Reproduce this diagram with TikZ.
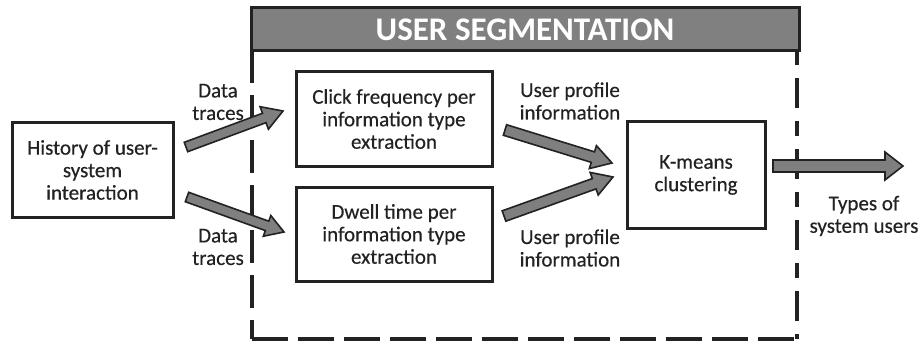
\documentclass[tikz,border=0pt]{standalone}
\usepackage{fontspec}
\setmainfont{Carlito}
\newfontfamily\bodyfont{Carlito}[FakeBold=0.4]
\usetikzlibrary{calc}
\definecolor{ink}{HTML}{222222}
\definecolor{arrowgray}{HTML}{7F7F7F}
\definecolor{headgray}{HTML}{808080}
\tikzset{
  txt/.style={font=\bodyfont\fontsize{21}{22.5}\selectfont},
  procbox/.style={draw=ink, line width=3pt, fill=white, align=center, text=ink, txt},
  lbl/.style={align=center, text=ink, txt},
  frameline/.style={draw=ink, line width=4pt},
}
% #1 tail, #2 tip, #3 shaft half width, #4 head half width, #5 head length
\newcommand{\blockarrow}[5]{%
  \coordinate (hb) at ($(#2)!#5!(#1)$);
  \filldraw[fill=arrowgray, draw=ink, line width=1.6pt, line join=miter]
    ($(#1)!#3!90:(#2)$) -- ($(hb)!#3!90:(#2)$) -- ($(hb)!#4!90:(#2)$) -- (#2)
    -- ($(hb)!#4!-90:(#2)$) -- ($(hb)!#3!-90:(#2)$) -- ($(#1)!#3!-90:(#2)$) -- cycle;
}
\begin{document}
\begin{tikzpicture}[x=1pt,y=-1pt]
\useasboundingbox[fill=white] (0,0) rectangle (923,342);
% frame
\draw[frameline, dash pattern=on 33pt off 12pt] (252,50) -- (252,339);
\draw[frameline, dash pattern=on 15pt off 13pt on 30pt off 13pt] (797,50) -- (797,339);
\draw[frameline, dash pattern=on 36pt off 10pt] (252,339) -- (799,339);
% header
\node[draw=ink, line width=3pt, fill=headgray, minimum width=548pt, minimum height=43pt, inner sep=0pt] (hdr) at (525,29) {};
\node[text=white, font=\fontsize{33}{36}\bfseries] (title) at ($(hdr.center)+(0,1)$) {USER SEGMENTATION};
% boxes
\node[procbox, minimum width=161pt, minimum height=94pt] (hist) at (92.5,170) {History of user-\\system\\interaction};
\node[procbox, minimum width=196pt, minimum height=94pt] (click) at (394,119) {Click frequency per\\information type\\extraction};
\node[procbox, minimum width=196pt, minimum height=94pt] (dwell) at (394,234) {Dwell time per\\information type\\extraction};
\node[procbox, minimum width=138pt, minimum height=106pt] (km) at (696,175) {K-means\\clustering};
% arrow end points
\coordinate (a1s) at (186,147);
\coordinate (a1e) at (283,111);
\coordinate (a2s) at (187,197);
\coordinate (a2e) at (284,232);
\coordinate (a3s) at (505,130);
\coordinate (a3e) at (612,163);
\coordinate (a4s) at (504,216);
\coordinate (a4e) at (613,177);
\coordinate (a5s) at (773,166);
\coordinate (a5e) at (903,166);
\blockarrow{a1s}{a1e}{5pt}{12pt}{20pt}
\blockarrow{a2s}{a2e}{5pt}{11pt}{18pt}
\blockarrow{a3s}{a3e}{5.5pt}{12pt}{20pt}
\blockarrow{a4s}{a4e}{5.5pt}{12pt}{20pt}
\blockarrow{a5s}{a5e}{6pt}{14pt}{18pt}
% labels
\node[lbl] (l1) at (218,102) {Data\\traces};
\node[lbl] (l2) at (218,247) {Data\\traces};
\node[lbl] (l3) at (570,101) {User profile\\information};
\node[lbl] (l4) at (570,248) {User profile\\information};
\node[lbl] (l5) at (864,216) {Types of\\system users};
\end{tikzpicture}
\end{document}
